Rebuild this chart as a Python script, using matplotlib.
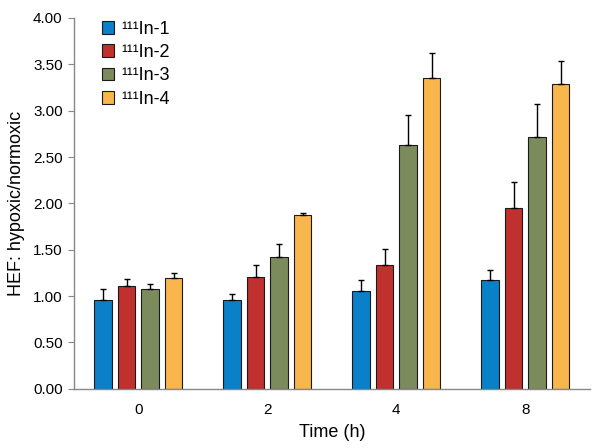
import numpy as np
import matplotlib
matplotlib.use("Agg")
import matplotlib.pyplot as plt
from matplotlib.ticker import FormatStrFormatter

plt.rcParams['font.family'] = ['Liberation Sans', 'DejaVu Sans']

times = ['0', '2', '4', '8']
series = ['¹¹¹In-1', '¹¹¹In-2', '¹¹¹In-3', '¹¹¹In-4']
in1 = [0.96, 0.96, 1.06, 1.17]
in2 = [1.11, 1.21, 1.34, 1.95]
in3 = [1.08, 1.42, 2.63, 2.72]
in4 = [1.20, 1.88, 3.35, 3.29]
err1 = [0.12, 0.06, 0.11, 0.11]
err2 = [0.08, 0.13, 0.17, 0.28]
err3 = [0.05, 0.14, 0.32, 0.35]
err4 = [0.05, 0.02, 0.27, 0.25]
colors = ['#0A80C8', '#C0302E', '#7B8B5C', '#F9B64C']

vals = [in1, in2, in3, in4]
errs = [err1, err2, err3, err4]

fig = plt.figure(figsize=(6, 4.48), dpi=100)
ax = fig.add_axes([0.123, 0.132, 0.86, 0.828])

x = np.arange(len(times))
w = 0.136
step = 0.182
for i in range(4):
    pos = x + (i - 1.5) * step
    ax.bar(pos, vals[i], width=w, color=colors[i], edgecolor='#1a1a1a',
           linewidth=0.8, label=series[i], zorder=2,
           yerr=[np.zeros(4), errs[i]], capsize=2.5,
           error_kw=dict(ecolor='black', elinewidth=1, capthick=1))

ax.set_xlim(-0.5, 3.5)
ax.set_ylim(0, 4.0)
ax.set_yticks(np.arange(0, 4.01, 0.5))
ax.yaxis.set_major_formatter(FormatStrFormatter('%.2f'))
ax.set_xticks(x)
ax.set_xticklabels(times)
ax.tick_params(axis='x', length=0, pad=10, labelsize=11)
ax.tick_params(axis='y', length=4, color='#888888', labelsize=11, pad=4)
for s in ['top', 'right']:
    ax.spines[s].set_visible(False)
for s in ['left', 'bottom']:
    ax.spines[s].set_color('#888888')
    ax.spines[s].set_linewidth(1)

ax.set_xlabel('Time (h)', fontsize=13, labelpad=5)
ax.set_ylabel('HEF: hypoxic/normoxic', fontsize=13, labelpad=6)

ax.legend(loc='upper left', bbox_to_anchor=(0.04, 1.012), frameon=False,
          fontsize=13, handlelength=0.7, handleheight=0.7, handletextpad=0.4,
          labelspacing=0.35, borderaxespad=0)

fig.savefig('out.png', dpi=100)
